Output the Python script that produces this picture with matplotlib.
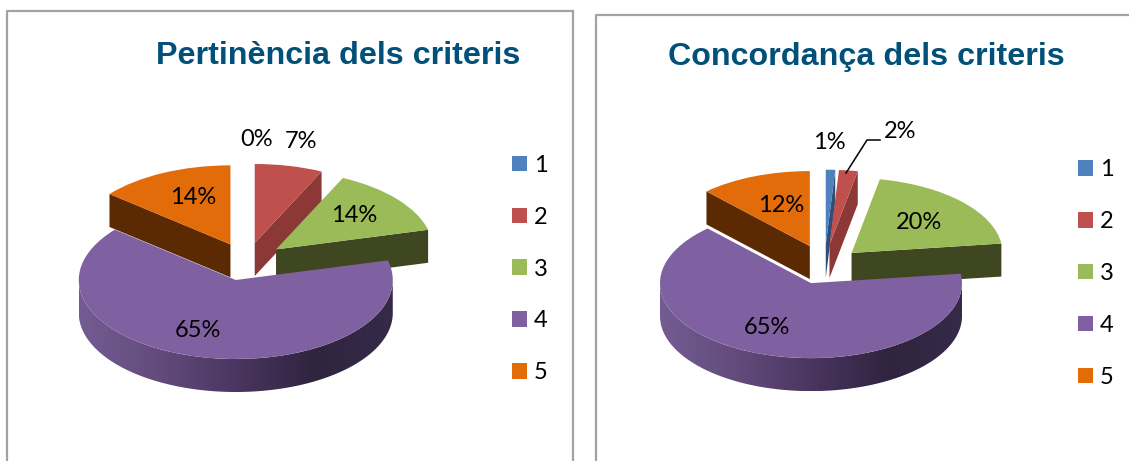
import numpy as np
import matplotlib
matplotlib.use('Agg')
import matplotlib.pyplot as plt
from matplotlib.colors import LinearSegmentedColormap
from matplotlib.patches import Polygon, Rectangle

W, H = 1129, 461

categories = ['1', '2', '3', '4', '5']
pertinencia = [0, 7, 14, 65, 14]
concordanca = [1, 2, 20, 65, 12]

colors = ['#4f81bd', '#c0504d', '#9bbb59', '#7f60a0', '#e26b0a']
side_colors = ['#2f4f78', '#8c3836', '#3f4720', '#4a3660', '#5c2a02']
top_order = [1, 1, 2, 3, 2]

purple_side = LinearSegmentedColormap.from_list(
    'purple_side',
    ['#725c92', '#634c7c', '#4a3660', '#30243f', '#352a48']
)

fig = plt.figure(figsize=(W / 100, H / 100), dpi=100)
overlay = fig.add_axes([0, 0, 1, 1], zorder=5)
overlay.set_xlim(0, W)
overlay.set_ylim(H, 0)
overlay.axis('off')
overlay.patch.set_alpha(0)

LABEL_FONT = 'Lato'
LABEL_SIZE = 17


def draw_pie(values, cx, cy, rx, ry, depth, explode, nudge):
    # squashed axes, the pie is a flat disc seen from above
    x_lim = (-1.7, 1.7)
    y_lim = (-2.0, 1.7)
    ax = fig.add_axes([
        (cx + x_lim[0] * rx) / W,
        1 - (cy - y_lim[0] * ry) / H,
        (x_lim[1] - x_lim[0]) * rx / W,
        (y_lim[1] - y_lim[0]) * ry / H,
    ])
    wedges, _ = ax.pie(
        values,
        colors=colors,
        explode=[explode] * len(values),
        startangle=90,
        counterclock=False,
        wedgeprops={'linewidth': 0},
    )
    h = depth / ry

    for i, wedge in enumerate(wedges):
        wedge.set_zorder(top_order[i] + 0.5)
        # small pixel shifts, the original has some perspective
        x0 = wedge.center[0] + nudge[i][0] / rx
        y0 = wedge.center[1] - nudge[i][1] / ry
        wedge.set_center((x0, y0))

        # cut faces that look toward the viewer
        for theta, sign in [(wedge.theta1, 1), (wedge.theta2, -1)]:
            if values[i] == 0 or sign * np.cos(np.radians(theta)) <= 0:
                continue
            px = x0 + np.cos(np.radians(theta))
            py = y0 + np.sin(np.radians(theta))
            ax.add_patch(Polygon(
                [(x0, y0), (px, py), (px, py - h), (x0, y0 - h)],
                facecolor=side_colors[i], linewidth=0,
                zorder=top_order[i] + 0.2,
            ))

        # rim of the slice, front half only
        start = max(wedge.theta1, -180)
        end = min(wedge.theta2, 0)
        if end > start:
            t = np.radians(np.linspace(start, end, 200))
            rim_x = x0 + np.cos(t)
            rim_y = y0 + np.sin(t)
            outline = np.column_stack([
                np.r_[rim_x, rim_x[::-1]],
                np.r_[rim_y, rim_y[::-1] - h],
            ])
            clip = Polygon(outline, transform=ax.transData)
            img = ax.imshow(
                np.linspace(0, 1, 256).reshape(1, -1),
                cmap=purple_side,
                extent=(rim_x.min(), rim_x.max(), y0 - 1 - h, y0 + 0.2),
                aspect='auto',
                zorder=top_order[i] + 0.2,
            )
            img.set_clip_path(clip)

    ax.set_xlim(*x_lim)
    ax.set_ylim(*y_lim)
    ax.set_aspect('auto')
    return ax, wedges


def draw_frame(left, right, top):
    overlay.plot(
        [left, left, right] if right < W else [left, left, W + 5],
        [H + 5, top, top],
        color='#a3a3a3', linewidth=1.6, clip_on=False,
    )
    if right < W:
        overlay.plot([right, right], [top, H + 5], color='#a3a3a3',
                     linewidth=1.6, clip_on=False)


def draw_labels(values, positions):
    for v, (x, y) in zip(values, positions):
        overlay.text(x, y, f'{v}%', ha='center', va='center',
                     fontsize=LABEL_SIZE, family=LABEL_FONT, color='black')


def draw_legend(x, y):
    handles = [Rectangle((0, 0), 1, 1, facecolor=c, linewidth=0) for c in colors]
    fig.legend(
        handles, categories,
        loc='center left',
        bbox_to_anchor=(x / W, 1 - y / H),
        frameon=False,
        prop={'family': LABEL_FONT, 'size': LABEL_SIZE},
        handlelength=0.635,
        handleheight=0.635,
        handletextpad=0.28,
        labelspacing=1.31,
        borderpad=0,
        borderaxespad=0,
    )


# left chart
draw_frame(7, 573, 11)
draw_pie(pertinencia, 244, 261.5, 157, 79, 33, 0.24,
         [(2.5, 0), (2.5, 0), (3, 0), (0, 0), (2.5, 0)])
overlay.text(338, 56, 'Pertinència dels criteris', ha='center', va='center',
             fontsize=23.2, fontweight='bold', family='Liberation Sans',
             color='#00507a')
draw_labels(pertinencia, [(257, 139), (301, 141), (354, 215), (198, 330), (193, 197)])
draw_legend(512, 269)

# right chart
draw_frame(596, W + 5, 15)
draw_pie(concordanca, 824.5, 264.5, 151, 75, 33, 0.264,
         [(0, 0), (0, 0), (-2, 2), (0, 0), (0, 0)])
overlay.text(866, 57, 'Concordança dels criteris', ha='center', va='center',
             fontsize=23.2, fontweight='bold', family='Liberation Sans',
             color='#00507a')
draw_labels(concordanca, [(829, 142), (900, 131), (919, 222), (767, 327), (781, 205)])
overlay.plot([846, 867, 880], [173, 140, 140], color='black', linewidth=1.1)
draw_legend(1078, 273.5)

fig.savefig('out.png', dpi=100)
